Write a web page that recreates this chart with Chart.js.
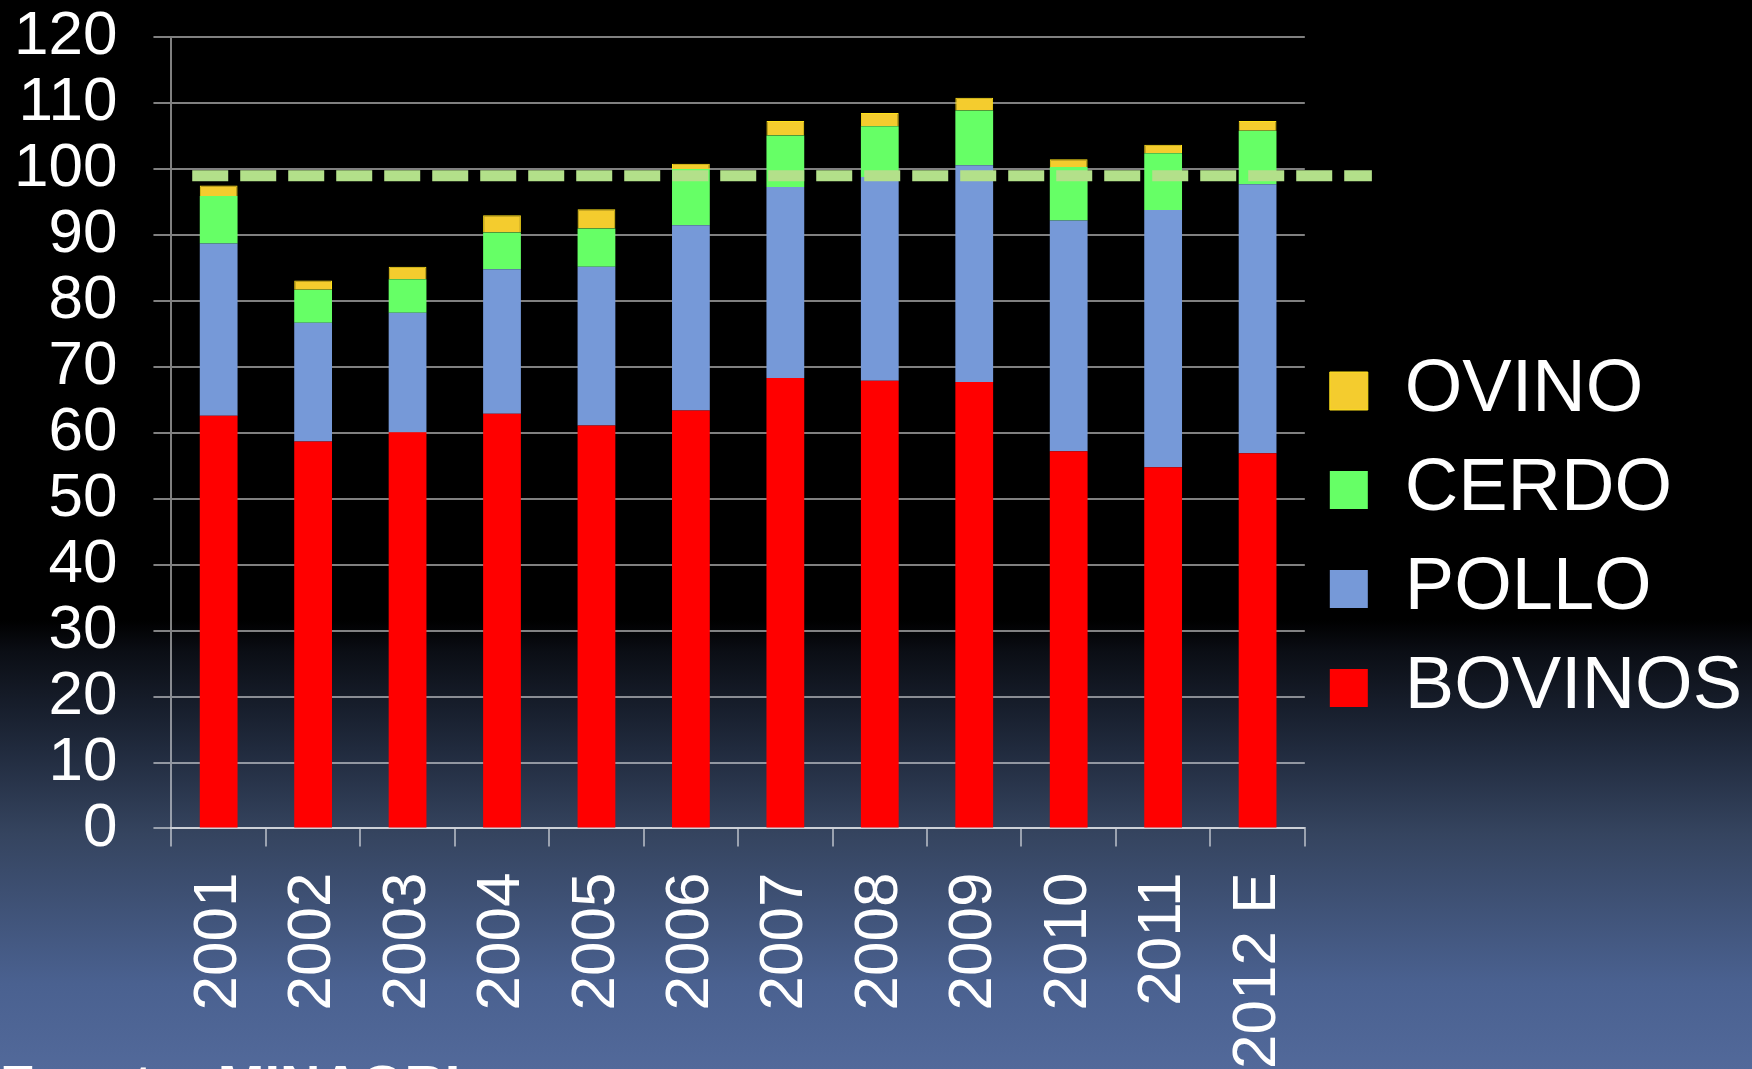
<!DOCTYPE html>
<html>
<head>
<meta charset="utf-8">
<script src="https://cdn.jsdelivr.net/npm/chart.js@4.4.1/dist/chart.umd.min.js"></script>
<style>
  html, body {
    margin: 0;
    padding: 0;
    overflow: hidden;
  }
  body {
    width: 1752px;
    height: 1069px;
    background: linear-gradient(to bottom, #000 0%, #000 58%, #0b0e15 61%, #202a3d 70%, #35445f 78%, #4a6190 92%, #52699a 100%);
    position: relative;
  }
  #wrap {
    position: absolute;
    left: 0;
    top: 0;
    width: 1752px;
    height: 1069px;
  }
  #fuente {
    position: absolute;
    left: 0;
    top: 1057px;
    font-family: "Liberation Sans", Arial, sans-serif;
    font-weight: bold;
    font-size: 56px;
    line-height: 56px;
    color: #fff;
    white-space: nowrap;
  }
</style>
</head>
<body>
<div id="wrap"><canvas id="myChart"></canvas></div>
<div id="fuente">Fuente: MINAGRI</div>
<script>
const years = ['2001', '2002', '2003', '2004', '2005', '2006', '2007', '2008', '2009', '2010', '2011', '2012 E'];

// kg por habitante (aprox.)
const bovinos = [62.6, 58.7, 60.1, 62.9, 61.1, 63.4, 68.3, 67.9, 67.7, 57.2, 54.8, 56.9];
const pollo   = [26.1, 18.0, 18.1, 21.9, 24.1, 28.1, 29.0, 30.9, 32.9, 35.0, 39.0, 40.8];
const cerdo   = [7.2, 5.0, 5.1, 5.6, 5.8, 8.5, 7.8, 7.7, 8.3, 8.1, 8.6, 8.1];
const ovino   = [1.6, 1.4, 1.9, 2.6, 2.9, 0.8, 2.2, 2.0, 1.9, 1.2, 1.3, 1.5];

const yTicks = [0, 10, 20, 30, 40, 50, 60, 70, 80, 90, 100, 110, 120];
const lineaRef = 99;

const FONT = '"Liberation Sans", Arial, sans-serif';
const gridColor = 'rgba(255, 255, 255, 0.5)';

// linea punteada verde sobre las barras
const dashedLine = {
    id: 'dashedLine',
    afterDatasetsDraw(chart) {
        const {ctx, scales: {x, y}} = chart;
        const cw = (x.right - x.left) / years.length;
        const py = y.getPixelForValue(lineaRef);
        ctx.save();
        ctx.strokeStyle = '#b3e08a';
        ctx.lineWidth = 11;
        ctx.setLineDash([36, 12]);
        ctx.beginPath();
        ctx.moveTo(x.left + 0.22 * cw, py);
        ctx.lineTo(x.right + 0.71 * cw, py);
        ctx.stroke();
        ctx.restore();
    }
};

const ctx = document.getElementById('myChart').getContext('2d');
const myChart = new Chart(ctx, {
    type: 'bar',
    data: {
        labels: years,
        datasets: [
            { label: 'BOVINOS', data: bovinos, backgroundColor: '#ff0000' },
            { label: 'POLLO', data: pollo, backgroundColor: '#7699d8' },
            { label: 'CERDO', data: cerdo, backgroundColor: '#66ff66' },
            { label: 'OVINO', data: ovino, backgroundColor: '#f4cc2e', borderColor: '#ffe21a', borderWidth: 1 }
        ]
    },
    options: {
        responsive: true,
        maintainAspectRatio: false,
        animation: false,
        barPercentage: 0.4,
        categoryPercentage: 1,
        layout: {
            padding: { left: 14, bottom: 0, right: 0, top: 10 }
        },
        plugins: {
            legend: {
                position: 'right',
                reverse: true,
                maxWidth: 480,
                labels: {
                    color: '#fff',
                    boxWidth: 38,
                    boxHeight: 38,
                    padding: 25,
                    font: { family: FONT, size: 74 }
                }
            },
            tooltip: { enabled: false }
        },
        scales: {
            x: {
                stacked: true,
                // chart.js cuenta el padding dos veces
                afterFit(scale) {
                    scale.height -= scale.options.ticks.padding;
                },
                grid: {
                    drawOnChartArea: false,
                    drawTicks: true,
                    tickLength: 18,
                    color: gridColor,
                    lineWidth: 2
                },
                border: { color: gridColor, width: 2 },
                ticks: {
                    color: '#fff',
                    autoSkip: false,
                    minRotation: 90,
                    maxRotation: 90,
                    padding: 26,
                    font: { family: FONT, size: 62 }
                }
            },
            y: {
                stacked: true,
                min: 0,
                max: 120,
                afterBuildTicks(scale) {
                    scale.ticks = yTicks.map(v => ({ value: v }));
                },
                afterFit(scale) {
                    scale.width -= scale.options.ticks.padding;
                    scale.paddingTop -= scale.options.ticks.padding;
                },
                grid: {
                    color: gridColor,
                    lineWidth: 2,
                    tickLength: 18
                },
                border: { color: gridColor, width: 2 },
                ticks: {
                    color: '#fff',
                    autoSkip: false,
                    padding: 36,
                    font: { family: FONT, size: 62 }
                }
            }
        }
    },
    plugins: [dashedLine]
});
</script>
</body>
</html>
